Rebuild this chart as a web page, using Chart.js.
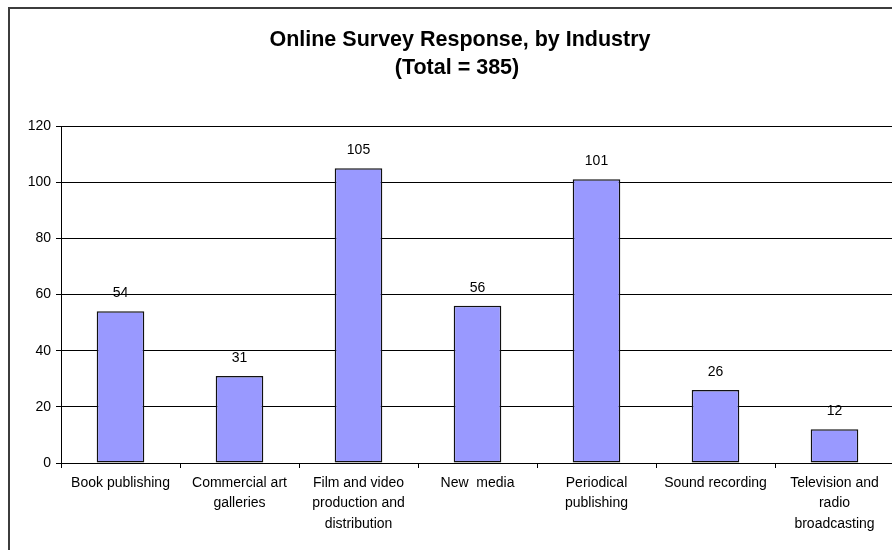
<!DOCTYPE html>
<html>
<head>
<meta charset="utf-8">
<script src="https://cdn.jsdelivr.net/npm/chart.js@4.4.1/dist/chart.umd.min.js"></script>
<style>
  html, body { margin: 0; padding: 0; background: #fff; overflow: hidden; }
  #wrap { width: 896px; height: 550px; position: relative; }
</style>
</head>
<body>
<div id="wrap"><canvas id="chart"></canvas></div>
<script>
const industries = [
  ["Book publishing"],
  ["Commercial art", "galleries"],
  ["Film and video", "production and", "distribution"],
  ["New  media"],
  ["Periodical", "publishing"],
  ["Sound recording"],
  ["Television and", "radio", "broadcasting"]
];
const responses = [54, 31, 105, 56, 101, 26, 12];
const titleLines = ["Online Survey Response, by Industry", "(Total = 385)"];
const yTicks = { min: 0, max: 120, step: 20 };

const FONT = "'Liberation Sans', Arial, sans-serif";

// outer frame + two-line bold heading
const framePlugin = {
  id: "frame",
  beforeDraw(chart) {
    const ctx = chart.ctx;
    ctx.save();
    ctx.fillStyle = "#fff";
    ctx.fillRect(0, 0, chart.width, chart.height);
    ctx.strokeStyle = "#3c3c3c";
    ctx.lineWidth = 2;
    ctx.beginPath();
    ctx.moveTo(9, chart.height);
    ctx.lineTo(9, 8);
    ctx.lineTo(chart.width, 8);
    ctx.stroke();
    ctx.fillStyle = "#000";
    ctx.font = "bold 21.5px " + FONT;
    ctx.textAlign = "center";
    ctx.textBaseline = "middle";
    ctx.fillText(titleLines[0], 460, 40);
    ctx.fillText(titleLines[1], 457, 68);
    ctx.restore();
  }
};

// value above each bar
const valueLabels = {
  id: "valueLabels",
  afterDatasetsDraw(chart) {
    const ctx = chart.ctx;
    const meta = chart.getDatasetMeta(0);
    ctx.save();
    ctx.fillStyle = "#000";
    ctx.font = "14px " + FONT;
    ctx.textAlign = "center";
    ctx.textBaseline = "middle";
    meta.data.forEach((bar, i) => {
      ctx.fillText(String(responses[i]), bar.x, bar.y - 18);
    });
    ctx.restore();
  }
};

new Chart(document.getElementById("chart"), {
  type: "bar",
  data: {
    labels: industries,
    datasets: [{
      data: responses,
      backgroundColor: "#9999ff",
      borderColor: "#111",
      borderWidth: 1.5,
      borderSkipped: false,
      categoryPercentage: 1,
      barPercentage: 0.4
    }]
  },
  options: {
    responsive: true,
    maintainAspectRatio: false,
    animation: false,
    layout: { padding: { top: 126, right: 2, bottom: 0, left: 0 } },
    plugins: {
      legend: { display: false },
      title: { display: false },
      tooltip: { enabled: false }
    },
    scales: {
      x: {
        afterFit(scale) { scale.height = 87; },
        grid: { drawOnChartArea: false, drawTicks: true, tickLength: 5, color: "#000", offset: true },
        border: { color: "#000" },
        ticks: {
          color: "#000",
          font: { family: FONT, size: 14, lineHeight: 1.45 },
          padding: 5,
          maxRotation: 0,
          autoSkip: false
        }
      },
      y: {
        min: yTicks.min,
        max: yTicks.max,
        afterFit(scale) { scale.width = 61; },
        grid: { color: "#000", tickLength: 5 },
        border: { color: "#000" },
        ticks: {
          stepSize: yTicks.step,
          color: "#000",
          font: { family: FONT, size: 14 },
          padding: 5
        }
      }
    }
  },
  plugins: [framePlugin, valueLabels]
});
</script>
</body>
</html>
